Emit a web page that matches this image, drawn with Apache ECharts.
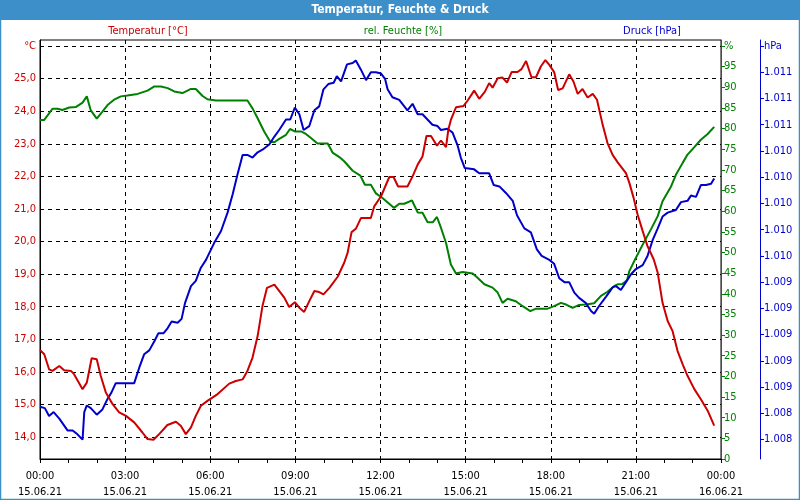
<!DOCTYPE html>
<html>
<head>
<meta charset="utf-8">
<script src="https://cdn.jsdelivr.net/npm/echarts@6/dist/echarts.min.js"></script>
<style>
html,body{margin:0;padding:0;background:#fff;}
#chart{width:800px;height:500px;}
</style>
</head>
<body>
<div id="chart"></div>
<script>
// ---- Data (time in hours since 15.06.21 00:00) ----
var tempTime = [0.00,0.15,0.32,0.44,0.68,0.85,1.09,1.20,1.50,1.65,1.82,2.00,2.14,2.32,2.56,2.79,3.03,3.32,3.61,3.79,4.00,4.20,4.49,4.79,4.96,5.14,5.32,5.49,5.67,5.90,6.26,6.67,6.90,7.14,7.31,7.49,7.67,7.84,8.00,8.26,8.61,8.78,8.98,9.14,9.31,9.49,9.67,9.84,9.99,10.20,10.49,10.72,10.84,10.98,11.13,11.31,11.66,11.78,12.02,12.31,12.46,12.62,12.95,13.13,13.31,13.48,13.62,13.78,13.99,14.13,14.31,14.39,14.48,14.66,14.93,15.09,15.30,15.48,15.68,15.83,15.95,16.13,16.30,16.46,16.62,16.83,16.97,17.13,17.32,17.48,17.65,17.81,17.95,18.12,18.26,18.42,18.65,18.80,18.95,19.12,19.30,19.48,19.63,19.71,19.83,20.00,20.18,20.36,20.65,20.77,20.92,21.06,21.24,21.41,21.63,21.77,21.94,22.12,22.29,22.47,22.65,22.82,23.06,23.29,23.53,23.76];
var tempVal = [16.67,16.54,16.08,16.03,16.18,16.05,16.03,15.93,15.47,15.67,16.42,16.39,15.88,15.37,15.01,14.76,14.65,14.45,14.14,13.94,13.92,14.09,14.37,14.47,14.35,14.09,14.30,14.65,14.96,15.11,15.32,15.64,15.72,15.77,16.03,16.44,17.10,18.02,18.58,18.68,18.28,17.99,18.14,17.97,17.84,18.17,18.48,18.45,18.38,18.58,18.92,19.35,19.65,20.29,20.39,20.72,20.72,21.08,21.39,21.98,21.98,21.69,21.69,22.00,22.36,22.61,23.24,23.24,22.94,23.10,22.90,23.43,23.73,24.12,24.16,24.35,24.63,24.38,24.60,24.86,24.72,25.01,25.03,24.88,25.20,25.20,25.29,25.54,25.04,25.04,25.37,25.57,25.42,25.20,24.65,24.70,25.13,24.91,24.53,24.68,24.42,24.53,24.35,24.04,23.58,23.02,22.66,22.43,22.10,21.80,21.34,20.83,20.32,19.86,19.45,19.04,18.12,17.56,17.26,16.64,16.23,15.88,15.47,15.16,14.81,14.35];

var humTime = [0.00,0.15,0.44,0.62,0.79,1.03,1.26,1.50,1.65,1.79,2.00,2.20,2.38,2.61,2.85,3.08,3.44,3.79,4.03,4.26,4.50,4.73,5.02,5.32,5.49,5.73,5.90,6.20,7.31,7.49,7.67,7.90,8.11,8.26,8.43,8.67,8.81,8.98,9.20,9.37,9.55,9.78,10.14,10.31,10.55,10.72,11.02,11.29,11.45,11.66,11.84,12.07,12.48,12.66,12.84,13.11,13.31,13.48,13.66,13.84,13.99,14.13,14.31,14.48,14.66,14.89,15.25,15.42,15.66,15.95,16.13,16.30,16.48,16.77,17.01,17.28,17.48,17.89,18.12,18.36,18.54,18.77,19.00,19.24,19.53,19.77,20.00,20.24,20.36,20.53,20.69,20.77,20.97,21.24,21.53,21.77,21.94,22.24,22.41,22.65,22.82,23.06,23.29,23.53,23.76];
var humVal = [82.1,82.1,84.8,84.8,84.5,85.1,85.2,86.3,87.8,84.4,82.4,84.1,85.7,87.0,87.8,88.0,88.4,89.2,90.2,90.2,89.8,89.0,88.6,89.6,89.6,87.9,87.1,86.8,86.8,84.9,82.5,79.3,76.9,76.7,77.5,78.5,79.9,79.3,79.3,78.7,77.7,76.4,76.4,74.2,73.1,72.1,69.8,68.6,66.4,66.4,64.3,63.2,60.8,61.8,61.8,62.6,59.7,59.6,57.3,57.3,58.6,56.0,52.3,47.1,44.9,45.3,44.9,43.9,42.3,41.5,40.3,37.8,38.8,38.2,37.0,35.8,36.4,36.4,37.0,37.8,37.4,36.6,37.3,37.4,37.7,39.5,40.5,41.9,42.3,42.4,43.3,45.5,48.3,51.9,55.6,58.8,62.4,66.0,68.8,71.7,73.7,75.5,77.3,78.7,80.4];

var presTime = [0.00,0.17,0.32,0.48,0.68,0.97,1.15,1.32,1.50,1.56,1.65,1.79,2.00,2.20,2.38,2.52,2.67,3.03,3.32,3.50,3.67,3.85,4.03,4.17,4.35,4.50,4.64,4.85,4.99,5.11,5.32,5.49,5.67,5.85,6.14,6.38,6.61,6.79,6.96,7.14,7.31,7.49,7.67,7.84,8.08,8.26,8.43,8.67,8.82,8.98,9.14,9.29,9.49,9.67,9.84,9.99,10.16,10.35,10.46,10.61,10.82,11.02,11.13,11.31,11.49,11.66,11.84,12.02,12.16,12.25,12.42,12.66,12.95,13.13,13.31,13.48,13.83,14.01,14.13,14.36,14.54,14.72,14.83,14.97,15.30,15.48,15.83,15.99,16.19,16.42,16.66,16.81,17.07,17.30,17.51,17.68,17.95,18.12,18.30,18.48,18.65,18.83,19.00,19.24,19.42,19.53,19.71,19.95,20.18,20.30,20.47,20.65,20.83,21.00,21.24,21.41,21.59,21.77,21.94,22.12,22.41,22.59,22.82,22.94,23.12,23.29,23.47,23.65,23.76];
var presVal = [1008.45,1008.44,1008.38,1008.41,1008.36,1008.27,1008.27,1008.24,1008.20,1008.41,1008.46,1008.44,1008.39,1008.43,1008.51,1008.56,1008.63,1008.63,1008.63,1008.75,1008.85,1008.88,1008.95,1009.01,1009.01,1009.05,1009.10,1009.09,1009.12,1009.24,1009.37,1009.41,1009.51,1009.57,1009.70,1009.79,1009.93,1010.07,1010.22,1010.37,1010.37,1010.35,1010.39,1010.41,1010.45,1010.51,1010.56,1010.64,1010.64,1010.73,1010.68,1010.56,1010.59,1010.71,1010.74,1010.87,1010.91,1010.92,1010.97,1010.93,1011.06,1011.07,1011.09,1011.02,1010.94,1011.00,1011.00,1010.99,1010.95,1010.87,1010.81,1010.79,1010.71,1010.76,1010.68,1010.68,1010.60,1010.59,1010.56,1010.57,1010.54,1010.44,1010.35,1010.27,1010.26,1010.23,1010.23,1010.14,1010.13,1010.08,1010.02,1009.91,1009.81,1009.78,1009.65,1009.60,1009.57,1009.54,1009.43,1009.40,1009.40,1009.32,1009.28,1009.24,1009.18,1009.16,1009.22,1009.29,1009.36,1009.37,1009.34,1009.40,1009.46,1009.50,1009.53,1009.60,1009.72,1009.81,1009.90,1009.93,1009.95,1010.01,1010.02,1010.06,1010.05,1010.14,1010.14,1010.15,1010.19];

// ---- Tick labels ----
var tempTicks = [14,15,16,17,18,19,20,21,22,23,24,25,26];
var humTicks = [0,5,10,15,20,25,30,35,40,45,50,55,60,65,70,75,80,85,90,95,100];
var presTicks = [1008.2,1008.4,1008.6,1008.8,1009.0,1009.2,1009.4,1009.6,1009.8,1010.0,1010.2,1010.4,1010.6,1010.8,1011.0,1011.2];
var timeTickLabels = ['00:00\n15.06.21','03:00\n15.06.21','06:00\n15.06.21','09:00\n15.06.21','12:00\n15.06.21','15:00\n15.06.21','18:00\n15.06.21','21:00\n15.06.21','00:00\n16.06.21'];

var title = 'Temperatur, Feuchte & Druck';
var seriesNames = ['Temperatur [°C]','rel. Feuchte [%]','Druck [hPa]'];

var RED = '#cc0000', GREEN = '#008000', BLUE = '#0000cc', BAR = '#3d8fc9';
var FONT = '"DejaVu Sans Condensed","Liberation Sans",sans-serif';

function zip(t, v){ return t.map(function(x,i){ return [x, v[i]]; }); }

var chart = echarts.init(document.getElementById('chart'), null, {renderer:'canvas'});
var option = {
  animation: false,
  backgroundColor: '#ffffff',
  textStyle: { fontFamily: FONT, fontSize: 11 },
  grid: { left: 40, right: 79, top: 40, bottom: 40, show: true, borderColor: '#000', borderWidth: 1, backgroundColor: '#fff' },
  graphic: [
    { type: 'rect', z: 100, shape: { x: 0, y: 0, width: 800, height: 20 }, style: { fill: BAR } },
    { type: 'text', z: 101, x: 400, y: 10, style: { text: title, fill: '#fff', font: 'bold 12px ' + FONT, textAlign: 'center', textVerticalAlign: 'middle' } },
    { type: 'rect', z: 100, shape: { x: 0.5, y: 0.5, width: 799, height: 499 }, style: { fill: null, stroke: BAR, lineWidth: 1.5 } },
    { type: 'text', z: 101, x: 148, y: 31, style: { text: seriesNames[0], fill: RED, font: '11px ' + FONT, textAlign: 'center', textVerticalAlign: 'middle' } },
    { type: 'text', z: 101, x: 403, y: 31, style: { text: seriesNames[1], fill: GREEN, font: '11px ' + FONT, textAlign: 'center', textVerticalAlign: 'middle' } },
    { type: 'text', z: 101, x: 652, y: 31, style: { text: seriesNames[2], fill: BLUE, font: '11px ' + FONT, textAlign: 'center', textVerticalAlign: 'middle' } }
  ],
  xAxis: {
    type: 'value', min: 0, max: 24, interval: 3,
    axisLine: { show: true, lineStyle: { color: '#000', width: 1 } },
    axisTick: { show: true, length: 4, lineStyle: { color: '#000' } },
    minorTick: { show: true, splitNumber: 3, length: 4, lineStyle: { color: '#000' } },
    splitLine: { show: true, lineStyle: { color: '#000', type: [4,4], width: 1 } },
    axisLabel: {
      color: '#000', fontSize: 11, fontFamily: FONT, margin: 9, lineHeight: 16,
      formatter: function(v){ return timeTickLabels[Math.round(v/3)]; }
    }
  },
  yAxis: [
    {
      type: 'value', min: 13.327, max: 26.184, position: 'left',
      axisLine: { show: true, lineStyle: { color: '#000', width: 1 } },
      axisTick: { show: false, customValues: tempTicks },
      splitLine: { show: true, lineStyle: { color: '#000', type: [4,4], width: 1 } },
      axisLabel: {
        customValues: tempTicks, color: RED, fontSize: 11, fontFamily: FONT, margin: 4,
        formatter: function(v){ return v >= 26 ? '°C' : v.toFixed(1).replace('.', ','); }
      }
    },
    {
      type: 'value', min: 0, max: 101.45, position: 'right', offset: 0,
      axisLine: { show: true, lineStyle: { color: GREEN, width: 1 } },
      axisTick: { show: true, length: 4, customValues: humTicks, lineStyle: { color: GREEN } },
      splitLine: { show: false },
      axisLabel: {
        customValues: humTicks, color: GREEN, fontSize: 11, fontFamily: FONT, margin: 3,
        formatter: function(v){ return v >= 100 ? '%' : String(v); }
      }
    },
    {
      type: 'value', min: 1008.052, max: 1011.246, position: 'right', offset: 39,
      axisLine: { show: true, lineStyle: { color: BLUE, width: 1 } },
      axisTick: { show: true, length: 4, customValues: presTicks, lineStyle: { color: BLUE } },
      splitLine: { show: false },
      axisLabel: {
        customValues: presTicks, color: BLUE, fontSize: 11, fontFamily: FONT, margin: 4,
        formatter: function(v){
          if (v > 1011.1) return 'hPa';
          var r = Math.round(v);
          return Math.floor(r/1000) + '.' + String(r % 1000).padStart(3, '0');
        }
      }
    }
  ],
  series: [
    { name: seriesNames[1], type: 'line', yAxisIndex: 1, data: zip(humTime, humVal), showSymbol: false, lineStyle: { color: GREEN, width: 2 }, itemStyle: { color: GREEN } },
    { name: seriesNames[2], type: 'line', yAxisIndex: 2, data: zip(presTime, presVal), showSymbol: false, lineStyle: { color: BLUE, width: 2 }, itemStyle: { color: BLUE } },
    { name: seriesNames[0], type: 'line', yAxisIndex: 0, data: zip(tempTime, tempVal), showSymbol: false, lineStyle: { color: RED, width: 2 }, itemStyle: { color: RED } }
  ]
};
chart.setOption(option);
</script>
</body>
</html>
